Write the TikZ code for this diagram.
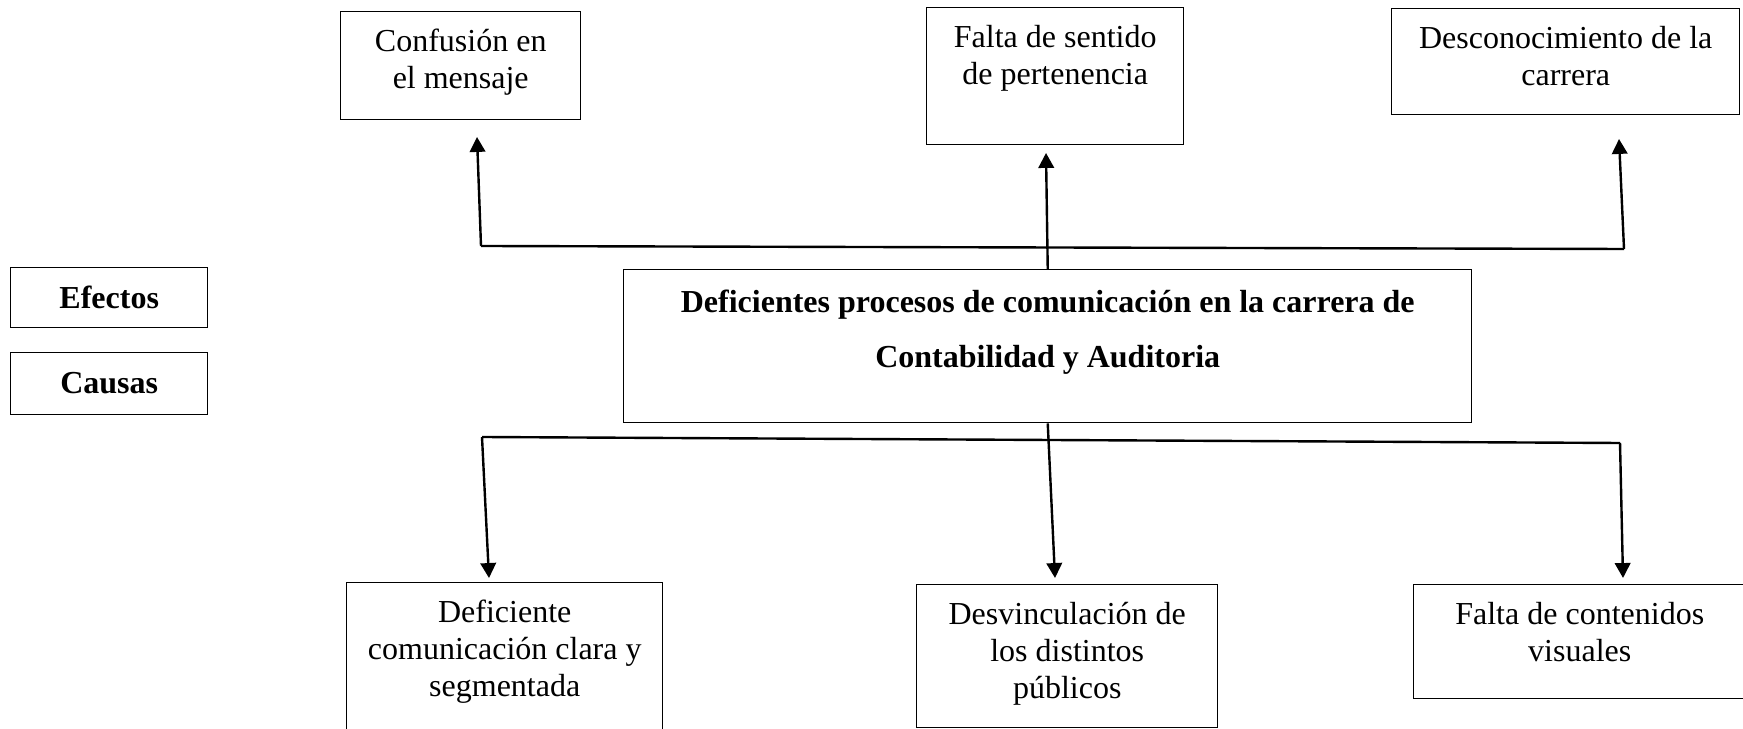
\documentclass[tikz,border=0pt]{standalone}
\usepackage{fontspec}
\setmainfont{Liberation Serif}
\usetikzlibrary{arrows.meta}
\newlength\px
\setlength\px{0.375pt}
\begin{document}
\begin{tikzpicture}[x=0.375pt,y=-0.375pt,
    font=\fontsize{12}{13.9}\selectfont,
    box/.style={draw,line width=0.55pt,inner sep=0pt,anchor=north west},
    link/.style={line width=0.9pt},
    arr/.style={link,-{Triangle[length=5.6pt,width=5.8pt]}}]
    \useasboundingbox (0,0) rectangle (1743,729);
    % effects on top, causes below
    \foreach \n/\x/\y/\w/\h/\txt in
        { ef1/340/11/240/108/{Confusión en\\el mensaje}
        , ef2/926/7/257/137/{Falta de sentido\\de pertenencia}
        , ef3/1391/8/348/106/{Desconocimiento de la\\carrera}
        , ca1/346/582/316/150/{Deficiente\\comunicación clara y\\segmentada}
        , ca2/916/584/301/143/{Desvinculación de\\los distintos\\públicos}
        , ca3/1413/584/332/114/{Falta de contenidos\\visuales}
        }
    {\node[box] (\n) at (\x,\y) {\parbox[c][\h\px][t]{\w\px}{\centering\rule{0pt}{40\px}\txt}};}
    \foreach \n/\y/\h/\txt in
        { efe/267/60/Efectos
        , cau/352/62/Causas
        }
    {\node[box,font=\fontsize{12}{13.9}\selectfont\bfseries] (\n) at (10,\y) {\parbox[c][\h\px][t]{197\px}{\centering\rule{0pt}{41\px}\txt}};}
    \node[box,font=\fontsize{12}{20.6}\selectfont\bfseries] (prob) at (623,269)
        {\parbox[c][153\px][t]{848\px}{\centering\rule{0pt}{43\px}Deficientes procesos de comunicación en la carrera de\\Contabilidad y Auditoria}};
    % branch points and arrow tips
    \coordinate (tl) at (481,246);
    \coordinate (tr) at (1624,249);
    \coordinate (t1) at (477,137);
    \coordinate (t2) at (1046,153);
    \coordinate (t3) at (1619,139);
    \coordinate (bl) at (482,437);
    \coordinate (br) at (1620,443);
    \coordinate (b1) at (489,578);
    \coordinate (b2) at (1055,578);
    \coordinate (b3) at (1623,578);
    \draw[link] (tl) -- (tr);
    \draw[arr] (tl) -- (t1);
    \draw[arr] (prob.north) -- (t2);
    \draw[arr] (tr) -- (t3);
    \draw[link] (bl) -- (br);
    \draw[arr] (bl) -- (b1);
    \draw[arr] (prob.south) -- (b2);
    \draw[arr] (br) -- (b3);
\end{tikzpicture}
\end{document}
